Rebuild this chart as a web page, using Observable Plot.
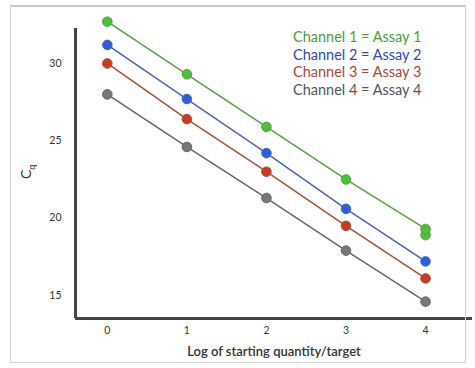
<!DOCTYPE html>
<html><head><meta charset="utf-8">
<script src="https://cdn.jsdelivr.net/npm/d3@7"></script>
<script src="https://cdn.jsdelivr.net/npm/@observablehq/plot@0.6"></script>
<style>
body{margin:0;background:#fff;font-family:Lato,"Open Sans",sans-serif;}
#wrap{position:relative;width:475px;height:368px;}
#border{position:absolute;left:10px;top:5px;width:456px;height:358px;border:1px solid #d4d4d4;border-top:2px solid #c8c8c8;box-sizing:border-box;}
#legend{position:absolute;left:293px;top:28px;font-size:14.5px;line-height:17.5px;font-weight:400;}
#ylab{position:absolute;left:20px;top:162px;transform:rotate(-90deg);font-size:14px;color:#333;}
</style></head>
<body><div id="wrap"><div id="border"></div><div id="chart"></div><div id="legend"></div><div id="ylab">C<sub style="font-size:9px">q</sub></div></div>
<script>
const logQty = [0, 1, 2, 3, 4];
const seriesNames = ["Channel 1 = Assay 1", "Channel 2 = Assay 2", "Channel 3 = Assay 3", "Channel 4 = Assay 4"];
const ch1 = [32.7, 29.3, 25.9, 22.5, 19.3];
const ch2 = [31.2, 27.7, 24.2, 20.6, 17.2];
const ch3 = [30.0, 26.4, 23.0, 19.5, 16.1];
const ch4 = [28.0, 24.6, 21.3, 17.9, 14.6];
const ch1Replicate = [{x: 4, y: 18.9}];
const xTicks = [0, 1, 2, 3, 4];
const yTicks = [15, 20, 25, 30];
const lineColors = ["#5a9e48", "#4a62b8", "#a4503e", "#666666"];
const pointColors = ["#4cc23a", "#2d5fd6", "#c83a22", "#777777"];
const textColors = ["#4f9a3f", "#3346b2", "#a04a3a", "#555555"];

const rows = [];
[ch1, ch2, ch3, ch4].forEach((vals, i) => vals.forEach((v, j) => rows.push({series: seriesNames[i], idx: i, x: logQty[j], y: v})));
const reps = ch1Replicate.map(d => ({...d, idx: 0}));

const chart = Plot.plot({
  width: 475, height: 368,
  marginLeft: 75, marginRight: 3, marginTop: 28, marginBottom: 50,
  style: {background: "transparent", fontFamily: "Lato, 'Open Sans', sans-serif", fontSize: "10.5px", color: "#333"},
  x: {domain: [-0.4, 4.59], ticks: xTicks, tickFormat: "d", tickSize: 0, tickPadding: 8, label: null},
  y: {domain: [13.51, 32.26], ticks: yTicks, tickFormat: "d", tickSize: 0, tickPadding: 14, label: null},
  marks: [
    Plot.ruleX([-0.4], {stroke: "#444", strokeWidth: 3}),
    Plot.ruleY([13.51], {stroke: "#444", strokeWidth: 3}),
    Plot.line(rows, {x: "x", y: "y", z: "series", stroke: d => lineColors[d.idx], strokeWidth: 1.5}),
    Plot.dot(reps, {x: "x", y: "y", r: 4.8, fill: d => pointColors[d.idx], stroke: d => lineColors[d.idx], strokeWidth: 1}),
    Plot.dot(rows, {x: "x", y: "y", r: 4.8, fill: d => pointColors[d.idx], stroke: d => lineColors[d.idx], strokeWidth: 1}),
    Plot.text(["Log of starting quantity/target"], {frameAnchor: "bottom", dy: 37, fontSize: 13, fill: "#333", fontWeight: 600})
  ]
});
document.getElementById("chart").appendChild(chart);
const leg = document.getElementById("legend");
seriesNames.forEach((s, i) => {
  const d = document.createElement("div");
  d.textContent = s; d.style.color = textColors[i];
  leg.appendChild(d);
});
</script></body></html>
